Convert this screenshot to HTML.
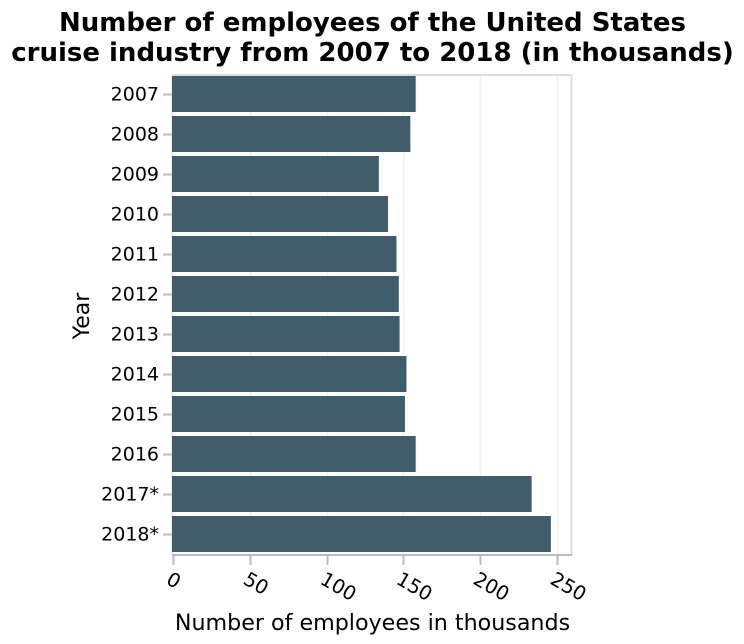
<!DOCTYPE html>
<html>
<head>
<meta charset="utf-8">
<style>
html,body{margin:0;padding:0;background:#fff;width:744px;height:644px;overflow:hidden}
svg{display:block}
text{font-family:"DejaVu Sans",sans-serif;fill:#000}
</style>
</head>
<body>
<svg id="chart" width="744" height="644" viewBox="0 0 744 644">
  <text x="372.5" y="31" text-anchor="middle" font-size="26" font-weight="bold">Number of employees of the United States</text>
  <text x="372.5" y="61" text-anchor="middle" font-size="26" font-weight="bold">cruise industry from 2007 to 2018 (in thousands)</text>
  <rect x="172.5" y="75" width="399" height="480" fill="none" stroke="#ddd" stroke-width="2"></rect>
  <g id="grid"></g>
  <g id="bars"></g>
  <line x1="172" y1="555" x2="572" y2="555" stroke="#bbb" stroke-width="2"></line>
  <g id="xaxis"></g>
  <g id="yaxis"></g>
  <text x="372.5" y="630" text-anchor="middle" font-size="22.2">Number of employees in thousands</text>
  <text transform="translate(89,316) rotate(-90)" text-anchor="middle" font-size="22">Year</text>
</svg>
<script>
var categories = ['2007','2008','2009','2010','2011','2012','2013','2014','2015','2016','2017*','2018*'];
var employees = [158, 154.5, 134, 140, 145.5, 147, 147.5, 152, 151, 158, 233.5, 246];
var xTicks = [0, 50, 100, 150, 200, 250];

var NS = 'http://www.w3.org/2000/svg';
function xScale(v) { return 173 + v * 1.536; }
function yBand(i) { return 76 + i * 40; }
var barHeight = 36;
function make(tag, attrs) {
  var el = document.createElementNS(NS, tag);
  for (var k in attrs) el.setAttribute(k, attrs[k]);
  return el;
}
var grid = document.getElementById('grid');
var bars = document.getElementById('bars');
var xaxis = document.getElementById('xaxis');
var yaxis = document.getElementById('yaxis');

xTicks.forEach(function (t) {
  var x = Math.round(xScale(t)) + 0.5;
  var g = make('line', {x1: x, x2: x, y1: 76, y2: 554, stroke: '#f3f3f3', 'stroke-width': 2});
  
  
  grid.appendChild(g);

  var tick = make('line', {x1: x, x2: x, y1: 555, y2: 565, stroke: '#bbb', 'stroke-width': 2});
  
  
  xaxis.appendChild(tick);

  var label = make('text', {'font-size': 19.5, transform: 'translate(' + (x - 8.5) + ',583) rotate(30)'});
  
  
  label.textContent = String(t);
  xaxis.appendChild(label);
});

categories.forEach(function (c, i) {
  var y = yBand(i);
  var bar = make('rect', {x: 172, y: y, width: xScale(employees[i]) - 172, height: barHeight, fill: '#415d6b'});
  
  
  bars.appendChild(bar);

  var tick = make('line', {x1: 163, x2: 172, y1: y + 18.5, y2: y + 18.5, stroke: '#bbb', 'stroke-width': 2});
  
  
  yaxis.appendChild(tick);

  var label = make('text', {x: 159, y: y + 24.5, 'text-anchor': 'end', 'font-size': 19});
  
  
  label.textContent = c;
  yaxis.appendChild(label);
});
</script>
</body>
</html>
